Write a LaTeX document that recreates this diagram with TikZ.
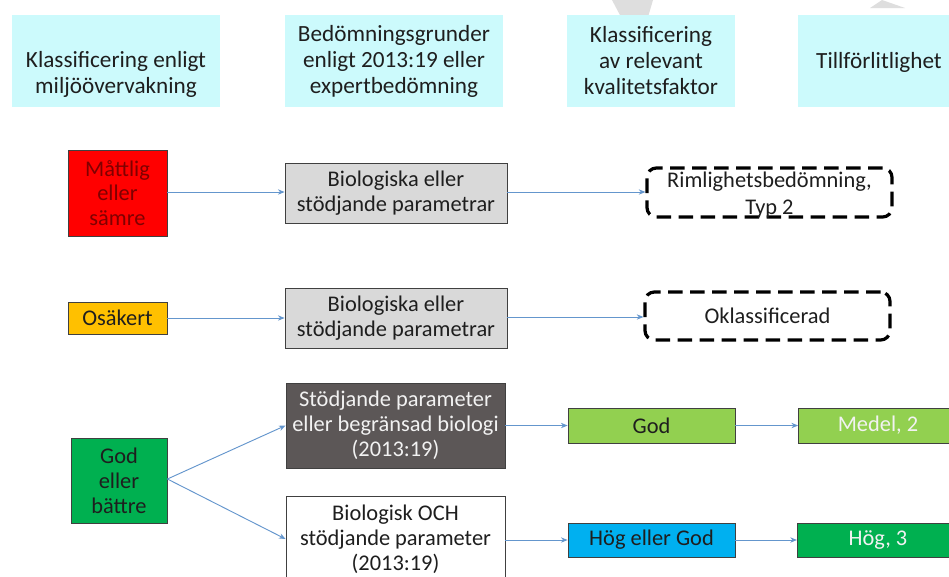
\documentclass[tikz,border=0pt]{standalone}
\usepackage{fontspec}
\setmainfont{Carlito}
\usetikzlibrary{arrows.meta}
\definecolor{hdrcol}{RGB}{204,250,252}
\definecolor{arrcol}{RGB}{100,150,205}
\definecolor{redbox}{RGB}{255,0,0}
\definecolor{redtxt}{RGB}{127,0,0}
\definecolor{orbox}{RGB}{255,192,0}
\definecolor{grbox}{RGB}{0,176,80}
\definecolor{ltgrbox}{RGB}{146,208,80}
\definecolor{bluebox}{RGB}{0,176,240}
\definecolor{lgray}{RGB}{217,217,217}
\definecolor{dgray}{RGB}{92,87,87}
\definecolor{bordercol}{RGB}{64,64,64}
\definecolor{txtcol}{RGB}{30,30,30}
\definecolor{wmcol}{RGB}{222,222,222}
\tikzset{
  hdr/.style={rectangle, fill=hdrcol, inner sep=0pt},
  hdrtext/.style={align=center, inner sep=0pt, text=txtcol,
    font=\fontsize{17.4pt}{19.5pt}\selectfont},
  box/.style={rectangle, draw=bordercol, line width=0.6pt, inner sep=0pt,
    align=center, text=txtcol, font=\fontsize{16.8pt}{18.6pt}\selectfont},
  dbox/.style={rectangle, rounded corners=7pt, draw=black, line width=2.4pt,
    dash pattern=on 11pt off 5.5pt, inner sep=0pt},
  lbl/.style={inner sep=0pt, align=center, text=txtcol,
    font=\fontsize{16.8pt}{20pt}\selectfont},
  arr/.style={draw=arrcol, line width=0.7pt, -{Stealth[length=5pt,width=4pt]}}
}
\begin{document}
\begin{tikzpicture}[x=0.75pt,y=-0.75pt]
\useasboundingbox (0,0) rectangle (949,576);
\clip (0,0) rectangle (949,576);
\fill[white] (0,0) rectangle (949,576);
% faint watermark fragments
\fill[wmcol] (612,0) -- (653,0) -- (648,17) -- (621,17) -- cycle;
\fill[wmcol] (870,8) -- (905,8) -- (882,0) -- cycle;
% headers
\node[hdr, minimum width=156pt, minimum height=69pt] (h1) at (116,61) {};
\node[hdrtext] (h1t) at (116,74) {Klassificering enligt\\miljöövervakning};
\node[hdr, minimum width=163.5pt, minimum height=69pt, hdrtext] (h2) at (394,61) {Bedömningsgrunder\\enligt 2013:19 eller\\expertbedömning};
\node[hdr, minimum width=126pt, minimum height=69pt, hdrtext] (h3) at (651,61) {Klassificering\\av relevant\\kvalitetsfaktor};
\node[hdr, minimum width=123pt, minimum height=69pt] (h4) at (880,61) {};
\node[hdrtext] (h4t) at (879,62) {Tillförlitlighet};
% row 1
\node[box, fill=redbox, text=redtxt, minimum width=74.25pt, minimum height=64.5pt] (r1) at (117.5,193) {Måttlig\\eller\\sämre};
\node[box, fill=lgray, minimum width=166.5pt, minimum height=45pt] (g1) at (396,193) {Biologiska eller\\stödjande parametrar};
\node[dbox, minimum width=183.75pt, minimum height=36.75pt] (d1) at (769.5,192.5) {};
\node[lbl] (d1t) at (769.5,195) {Rimlighetsbedömning,\\Typ 2};
% row 2
\node[box, fill=orbox, minimum width=74.25pt, minimum height=24pt] (o2) at (117.5,318) {Osäkert};
\node[box, fill=lgray, minimum width=166.5pt, minimum height=45pt] (g2) at (396,318) {Biologiska eller\\stödjande parametrar};
\node[dbox, minimum width=183.75pt, minimum height=36pt] (d2) at (767.5,316) {};
\node[lbl] (d2t) at (767.5,316) {Oklassificerad};
% row 3
\node[box, fill=grbox, minimum width=72pt, minimum height=63.75pt] (gr3) at (119,480.5) {God\\eller\\bättre};
\node[box, fill=dgray, text=white!95!black, minimum width=164.25pt, minimum height=63.75pt] (dk) at (395.5,425.5) {Stödjande parameter\\eller begränsad biologi\\(2013:19)};
\node[box, fill=white, minimum width=164.25pt, minimum height=63.75pt] (wh) at (395.5,539) {Biologisk OCH\\stödjande parameter\\(2013:19)};
\node[box, fill=ltgrbox, minimum width=125.25pt, minimum height=26.25pt] (gd) at (651.5,425.5) {God};
\node[box, fill=ltgrbox, minimum width=123pt, minimum height=26.25pt] (md) at (880.5,425.5) {};
\node[lbl, text=white!95!black] (mdt) at (878,425.5) {Medel, 2};
\node[box, fill=bluebox, minimum width=125.25pt, minimum height=25.5pt] (hg) at (651.5,540) {Hög eller God};
\node[box, fill=grbox, minimum width=124pt, minimum height=25.5pt] (h3b) at (880,540) {};
\node[lbl, text=white!95!black] (h3bt) at (878,540) {Hög, 3};
% connectors
\draw[arr] (r1.east |- 0,192) -- (g1.west |- 0,192);
\draw[arr] (g1.east |- 0,192) -- (d1.west |- 0,192);
\draw[arr] (o2) -- (g2.west |- o2);
\draw[arr] (g2.east |- 0,317) -- (d2.west |- 0,317);
\draw[arr] (gr3.east |- 0,479) -- (dk.west);
\draw[arr] (gr3.east |- 0,479) -- (wh.west);
\draw[arr] (dk.east) -- (gd.west);
\draw[arr] (gd.east) -- (md.west);
\draw[arr] (wh.east |- hg) -- (hg.west);
\draw[arr] (hg.east) -- (h3b.west);
\end{tikzpicture}
\end{document}
